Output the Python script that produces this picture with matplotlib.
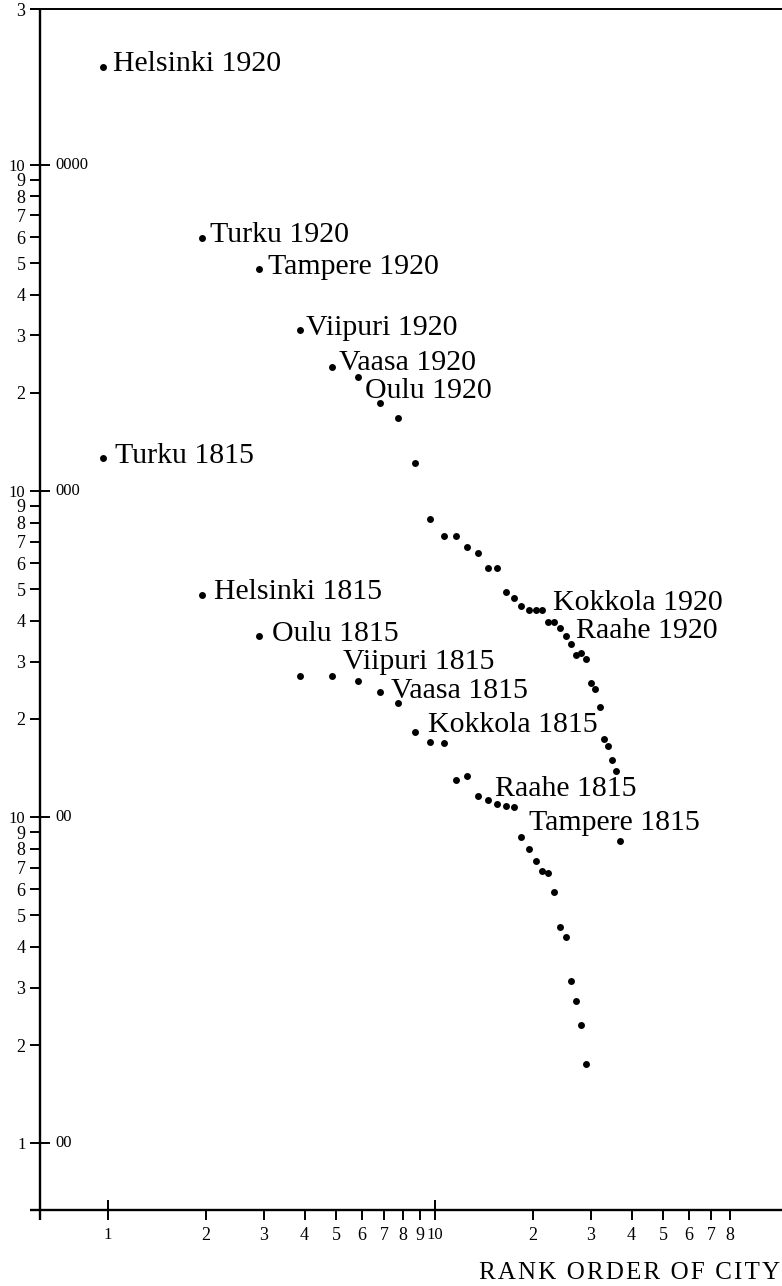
"""Rank-size plot of Finnish cities, 1815 vs 1920 (log-log, Tufte style)."""

import matplotlib

matplotlib.use("Agg")
import matplotlib.pyplot as plt
from matplotlib.ticker import FixedLocator, FixedFormatter
from matplotlib.transforms import offset_copy, blended_transform_factory

# ---- data ----
pop_1920 = [200000, 59500, 48100, 31100, 24000, 22400, 18600, 16800, 12150, 8200,
            7300, 7300, 6720, 6440, 5820, 5800, 4910, 4690, 4450, 4320,
            4310, 4310, 3960, 3960, 3790, 3590, 3390, 3140, 3190, 3050,
            2570, 2470, 2180, 1740, 1650, 1500, 1380, 845]
rank_1920 = list(range(1, len(pop_1920) + 1))

pop_1815 = [12600, 4800, 3590, 2710, 2700, 2620, 2420, 2240, 1820, 1700,
            1690, 1300, 1340, 1160, 1130, 1100, 1080, 1075, 866, 796,
            733, 684, 675, 590, 461, 430, 314, 272, 230, 175]
rank_1815 = list(range(1, len(pop_1815) + 1))

names_1920 = {1: "Helsinki 1920", 2: "Turku 1920", 3: "Tampere 1920", 4: "Viipuri 1920",
              5: "Vaasa 1920", 6: "Oulu 1920", 22: "Kokkola 1920", 27: "Raahe 1920"}
names_1815 = {1: "Turku 1815", 2: "Helsinki 1815", 3: "Oulu 1815", 5: "Viipuri 1815",
              7: "Vaasa 1815", 9: "Kokkola 1815", 15: "Raahe 1815", 19: "Tampere 1815"}

x_major = [1, 10]
x_major_labels = ["1", "10"]
x_minor = [2, 3, 4, 5, 6, 7, 8, 9, 20, 30, 40, 50, 60, 70, 80]
x_minor_labels = ["2", "3", "4", "5", "6", "7", "8", "9", "2", "3", "4", "5", "6", "7", "8"]

y_major = [100, 1000, 10000, 100000]
y_major_left = ["1", "10", "10", "10"]
y_major_right = ["00", "00", "000", "0000"]
y_minor = [200, 300, 400, 500, 600, 700, 800, 900,
           2000, 3000, 4000, 5000, 6000, 7000, 8000, 9000,
           20000, 30000, 40000, 50000, 60000, 70000, 80000, 90000, 300000]
y_minor_labels = ["2", "3", "4", "5", "6", "7", "8", "9"] * 3 + ["3"]

# label placement: pixels from the dot to the start of the text baseline (y down)
LABEL_OFFSET = {
    "Helsinki 1920": (10, 4), "Turku 1920": (8, 3.5), "Tampere 1920": (9, 5),
    "Viipuri 1920": (6, 5), "Vaasa 1920": (7, 3), "Oulu 1920": (7, 21),
    "Kokkola 1920": (11, 0), "Raahe 1920": (5, -6),
    "Turku 1815": (12, 5), "Helsinki 1815": (12, 4), "Oulu 1815": (13, 5),
    "Viipuri 1815": (11, -7), "Vaasa 1815": (11, 6), "Kokkola 1815": (13, 0),
    "Raahe 1815": (7, -4), "Tampere 1815": (8, -7),
}

SERIF = ["Liberation Serif", "DejaVu Serif"]
INK = "black"
W, H = 782, 1286          # output size in px (dpi 100)
AX_L, AX_B, AX_W, AX_H = 40, 76, 742, 1200.7


def main():
    plt.rcParams.update({"font.family": SERIF, "text.color": INK,
                         "xtick.color": INK, "ytick.color": INK})
    fig = plt.figure(figsize=(W / 100, H / 100), dpi=100)
    ax = fig.add_axes([AX_L / W, AX_B / H, AX_W / W, AX_H / H])
    ax.set_xscale("log")
    ax.set_yscale("log")
    ax.set_xlim(0.621, 115.4)
    ax.set_ylim(62.4, 3.0e5)
    for s in ax.spines.values():
        s.set_visible(False)
    ax.patch.set_visible(False)

    # axis lines crossing at the origin corner, plus the top rule
    ax.plot([0, 0], [-10 / AX_H, 1], transform=ax.transAxes, color=INK, lw=1.7,
            clip_on=False, solid_capstyle="butt")
    ax.plot([-10 / AX_W, 1], [0, 0], transform=ax.transAxes, color=INK, lw=1.7,
            clip_on=False, solid_capstyle="butt")
    ax.plot([-10 / AX_W, 1], [1, 1], transform=ax.transAxes, color=INK, lw=1.4,
            clip_on=False, solid_capstyle="butt")

    # ticks
    ax.xaxis.set_major_locator(FixedLocator(x_major))
    ax.xaxis.set_major_formatter(FixedFormatter(x_major_labels))
    ax.xaxis.set_minor_locator(FixedLocator(x_minor))
    ax.xaxis.set_minor_formatter(FixedFormatter(x_minor_labels))
    ax.yaxis.set_major_locator(FixedLocator(y_major))
    ax.yaxis.set_major_formatter(FixedFormatter(y_major_left))
    ax.yaxis.set_minor_locator(FixedLocator(y_minor))
    ax.yaxis.set_minor_formatter(FixedFormatter(y_minor_labels))
    ax.tick_params(which="minor", direction="out", length=7.5, width=1.4, pad=3, labelsize=13)
    ax.tick_params(which="major", direction="inout", length=15, width=1.4, pad=3, labelsize=12)
    ax.tick_params(axis="x", which="both", pad=5)

    # right-hand zeros of the decade labels
    zeros_tr = offset_copy(blended_transform_factory(ax.transAxes, ax.transData),
                           fig=fig, x=15, y=0, units="dots")
    for v, z in zip(y_major, y_major_right):
        ax.text(0, v, z, transform=zeros_tr, ha="left", va="center", fontsize=12)

    # dots (drawn a touch left of the tick, as in the original)
    dot_tr = offset_copy(ax.transData, fig=fig, x=-4.5, y=0, units="dots")
    ax.plot(rank_1920, pop_1920, "o", ms=5, color=INK, mec="none",
            transform=dot_tr, clip_on=False)
    ax.plot(rank_1815, pop_1815, "o", ms=5, color=INK, mec="none",
            transform=dot_tr, clip_on=False)

    for ranks, pops, names in [(rank_1920, pop_1920, names_1920),
                               (rank_1815, pop_1815, names_1815)]:
        for r, label in names.items():
            dx, dy = LABEL_OFFSET[label]
            ax.annotate(label, xy=(r, pops[r - 1]), xycoords=dot_tr,
                        xytext=(dx, -dy), textcoords="offset pixels",
                        ha="left", va="baseline", fontsize=21.5, color=INK)

    # axis title, letter-spaced
    fig.text(780 / W, 1 - 1273 / H, "\u200a".join("RANK ORDER OF CITY"),
             ha="right", va="center", fontsize=18, color=INK)

    fig.savefig("out.png", dpi=100, facecolor="white")


if __name__ == "__main__":
    main()
